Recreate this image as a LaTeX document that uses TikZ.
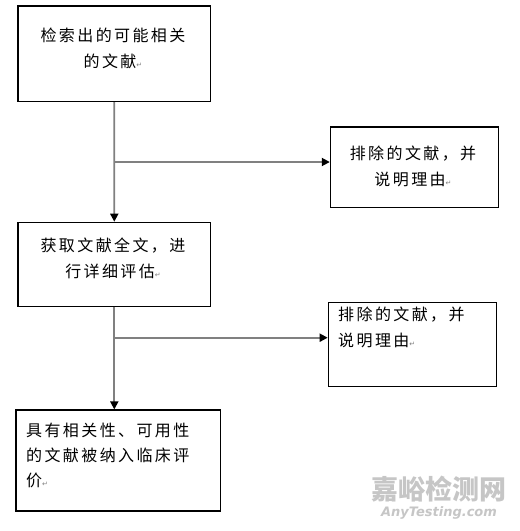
\documentclass[tikz,border=0pt]{standalone}
\usepackage{fontspec}
\newfontfamily\cjk[LetterSpace=15]{Noto Sans CJK SC}
\newfontfamily\wmfont{Noto Sans CJK SC}
\newfontfamily\symfont{DejaVu Sans}
\usetikzlibrary{arrows.meta}

% paragraph mark after each text
\newcommand{\pmark}{{\symfont\fontsize{7}{7}\selectfont\textcolor{gray}{↵}}}

\tikzset{
  box/.style={draw=black, line width=1.2pt, inner sep=0pt},
  txt/.style={font=\cjk\fontsize{16}{26}\selectfont, inner sep=0pt},
  flow/.style={draw=gray, line width=1.8pt, ->},
}

\begin{document}
\begin{tikzpicture}[x=1pt, y=-1pt, >={Triangle[length=8pt, width=8pt, color=black]}]

% white background
\fill[white] (0,0) rectangle (520,531);
\useasboundingbox (0,0) rectangle (520,531);

% boxes
\node[box, minimum width=192.5pt, minimum height=95.5pt] (search) at (114.25,53.75) {};
\node[box, minimum width=168pt, minimum height=80.7pt] (excl1) at (414.4,167.3) {};
\node[box, minimum width=192.7pt, minimum height=84pt] (full) at (114.3,264.3) {};
\node[box, minimum width=168.4pt, minimum height=84.4pt] (excl2) at (412.5,344.5) {};
\node[box, minimum width=204.7pt, minimum height=101pt] (incl) at (118.3,460.5) {};

% texts
\node[txt, align=center] (search-t) at (113,48.5) {检索出的可能相关\\的文献\pmark};
\node[txt, align=center] (excl1-t) at (413,166) {排除的文献，并\\说明理由\pmark};
\node[txt, align=center] (full-t) at (113,258.3) {获取文献全文，进\\行详细评估\pmark};
\node[txt, align=left, anchor=west] (excl2-t) at (338,327.5) {排除的文献，并\\说明理由\pmark};
\node[txt, align=left, anchor=west, font=\cjk\fontsize{16}{25}\selectfont] (incl-t) at (26,455.4)
  {具有相关性、可用性\\的文献被纳入临床评\\价\pmark};

% flow lines
\coordinate (fork1) at (114.25,162);
\coordinate (fork2) at (114.3,337.7);
\draw[flow] (search) -- (full);
\draw[flow] (fork1) -- (fork1 -| excl1.west);
\draw[flow] (full) -- (full.south |- incl.north);
\draw[flow] (fork2) -- (fork2 -| excl2.west);

% watermark
\node[text=gray!45, font=\wmfont\bfseries\fontsize{27}{27}\selectfont, inner sep=0pt] (wm) at (439,489) {嘉峪检测网};
\node[text=gray!45, font=\symfont\bfseries\itshape\fontsize{13}{13}\selectfont, inner sep=0pt] (wm-url) at (439,513) {AnyTesting.com};

\end{tikzpicture}
\end{document}
